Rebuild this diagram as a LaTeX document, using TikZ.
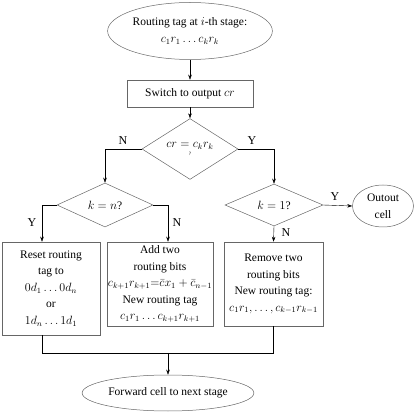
\documentclass[tikz,border=0pt]{standalone}
\usepackage{amsmath}
\usepackage{fontspec}
\setmainfont{Liberation Serif}
\usepackage{tikz}
\usetikzlibrary{shapes.geometric,arrows.meta}

\begin{document}
\begin{tikzpicture}[x=1pt, y=-1pt, >={Stealth[length=5pt,width=3.5pt]},
        every node/.style={font=\fontsize{11.5}{16.5}\selectfont, align=center, inner sep=1pt},
        terminal/.style={ellipse, draw=black!60, line width=0.5pt},
        box/.style={rectangle, draw=black!60, line width=0.5pt},
        decision/.style={diamond, draw=black!60, line width=0.5pt, inner sep=0pt},
        lbl/.style={font=\fontsize{12}{12}\selectfont, inner sep=0pt}]
        \useasboundingbox (0,0) rectangle (416,412);

        % Nodes
        \node[terminal, minimum width=155pt, minimum height=57pt] (start) at (190,31)
            {Routing tag at $i$-th stage:\\$c_1r_1\ldots c_kr_k$};
        \node[box, minimum width=126pt, minimum height=27pt] (switch) at (190,93.5)
            {Switch to output $cr$};
        \node[decision, minimum width=96pt, minimum height=44pt] (check) at (190,149)
            {$cr = c_kr_k$\\[-8pt]{\tiny ?}};
        \node[decision, minimum width=96pt, minimum height=44pt] (kn) at (105,205) {$k = n$?};
        \node[decision, minimum width=98pt, minimum height=42pt] (k1) at (274,205) {$k = 1$?};
        \node[terminal, minimum width=61pt, minimum height=42pt] (out) at (383,206) {Outout\\cell};
        \node[box, minimum width=98pt, minimum height=93pt] (reset) at (51,288.5)
            {Reset routing\\tag to\\$0d_1\ldots 0d_n$\\or\\$1d_n\ldots 1d_1$};
        \node[box, minimum width=104pt, minimum height=84pt] (add) at (160,284)
            {Add two\\routing bits\\$c_{k+1}r_{k+1}{=}\bar{c}x_1 + \bar{c}_{n-1}$\\New routing tag\\$c_1r_1\ldots c_{k+1}r_{k+1}$};
        \node[box, minimum width=99pt, minimum height=84pt] (remove) at (273.5,284)
            {Remove two\\routing bits\\New routing tag:\\$c_1r_1,\ldots,c_{k-1}r_{k-1}$};
        \node[terminal, minimum width=170pt, minimum height=36pt] (fwd) at (168,393)
            {Forward cell to next stage};
        \coordinate (join) at (168,353);

        % Edges
        \draw[->] (start) -- (switch);
        \draw[->] (switch) -- (check);
        \draw[->] (check.west) -| (kn.north);
        \draw[->] (check.east) -| (k1.north);
        \draw[->] (kn.west) -| ([xshift=-9pt]reset.north);
        \draw[->] (kn.east) -| ([xshift=8pt]add.north);
        \draw[->] (k1.east) -- (out.west);
        \draw[->] (k1.south) -- (remove.north);
        \draw ([xshift=-9pt]reset.south) |- (remove.south |- join) -- (remove.south);
        \draw[->] (join) -- (fwd.north);

        % Labels
        \node[lbl] at (123,141) {N};
        \node[lbl] at (252,141) {Y};
        \node[lbl] at (32,223) {Y};
        \node[lbl] at (177,223) {N};
        \node[lbl] at (335,197) {Y};
        \node[lbl] at (286,233) {N};
    \end{tikzpicture}
\end{document}
